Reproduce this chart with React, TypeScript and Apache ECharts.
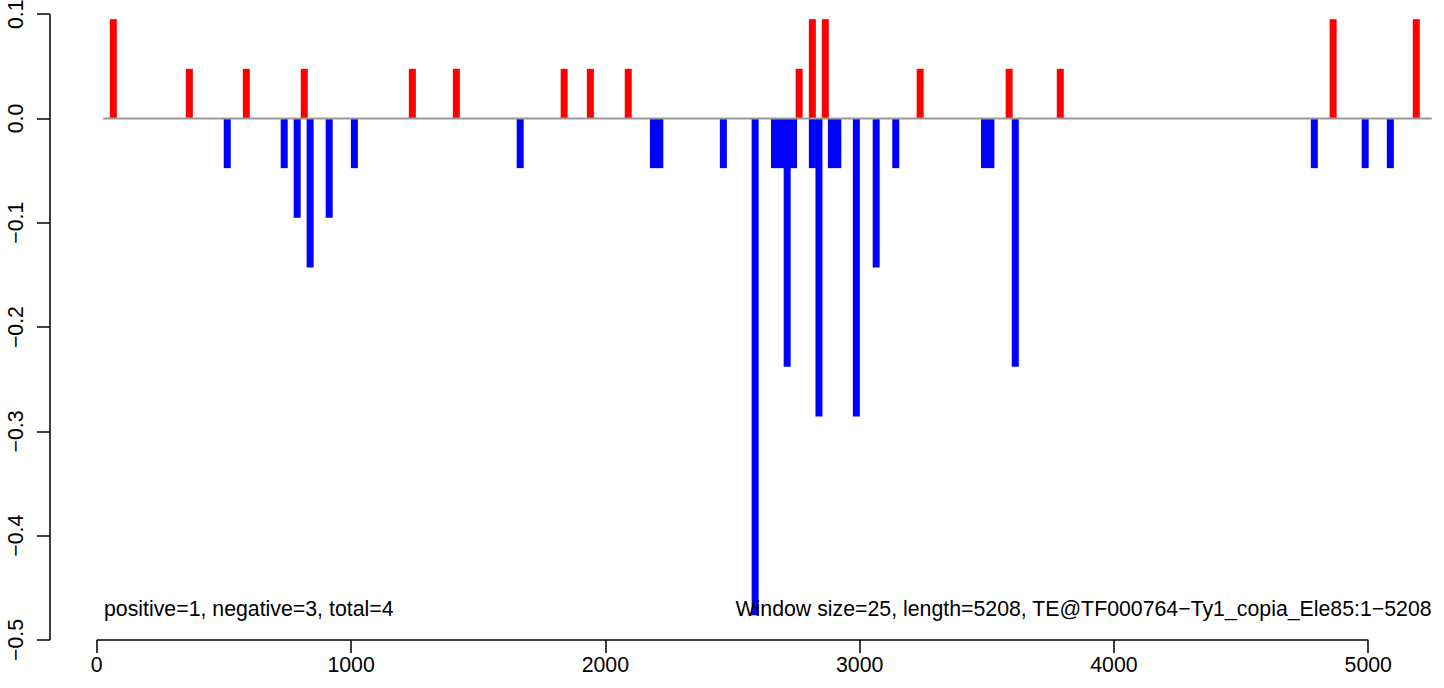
import React, { useEffect, useRef } from "react";
import * as echarts from "echarts";

// ---- data ----
const xTicks = [0, 1000, 2000, 3000, 4000, 5000];
const yTicks = [-0.5, -0.4, -0.3, -0.2, -0.1, 0.0, 0.1];

// positive windows (red)
const posX = [65, 364, 588, 816, 1241, 1414, 1838, 1941, 2090, 2762, 2814, 2865, 3238, 3588, 3789, 4862, 5189];
const posY = [0.0952, 0.0476, 0.0476, 0.0476, 0.0476, 0.0476, 0.0476, 0.0476, 0.0476, 0.0476, 0.0952, 0.0952, 0.0476, 0.0476, 0.0476, 0.0952, 0.0952];

// negative windows (blue)
const negX = [513, 737, 788, 839, 914, 1013, 1665, 2189, 2214, 2464, 2589, 2665, 2690, 2715, 2740, 2814, 2840, 2889, 2914, 2987, 3065, 3142, 3491, 3516, 3612, 4788, 4988, 5087];
const negY = [-0.0476, -0.0476, -0.0952, -0.1429, -0.0952, -0.0476, -0.0476, -0.0476, -0.0476, -0.0476, -0.4762, -0.0476, -0.0476, -0.2381, -0.0476, -0.0476, -0.2857, -0.0476, -0.0476, -0.2857, -0.1429, -0.0476, -0.0476, -0.0476, -0.2381, -0.0476, -0.0476, -0.0476];

const zeroLineX = [25, 5250];
const xAxisSpan = [0, 5000];
const yAxisSpan = [-0.5, 0.1];

const leftText = "positive=1, negative=3, total=4";
const rightText = "Window size=25, length=5208, TE@TF000764\u2212Ty1_copia_Ele85:1\u22125208";

const FONT = '"Liberation Sans", Arial, Helvetica, sans-serif';
const FS = 21.3;
const X_MIN = -184;
const X_MAX = 5298;
const Y_MIN = -0.5;
const Y_MAX = 0.1136;

export default function App() {
  const ref = useRef<HTMLDivElement>(null);
  useEffect(() => {
    if (!ref.current) return;
    const chart = echarts.init(ref.current, null, { renderer: "svg" });
    const option: any = {
      animation: false,
      backgroundColor: "#ffffff",
      grid: {
        left: 50,
        right: 0,
        top: 0,
        bottom: 48,
        containLabel: false,
        outerBoundsMode: "none",
      },
      xAxis: {
        type: "value",
        min: X_MIN,
        max: X_MAX,
        axisLine: { show: false, onZero: false },
        splitLine: { show: false },
        axisTick: {
          show: true,
          customValues: xTicks,
          length: 13,
          lineStyle: { color: "#000", width: 1.5 },
        },
        axisLabel: {
          show: true,
          customValues: xTicks,
          margin: 14,
          fontSize: FS,
          color: "#000",
          fontFamily: FONT,
          formatter: (v: number) => String(v),
        },
      },
      yAxis: {
        type: "value",
        min: Y_MIN,
        max: Y_MAX,
        axisLine: { show: false, onZero: false },
        splitLine: { show: false },
        axisTick: {
          show: true,
          customValues: yTicks,
          length: 13,
          lineStyle: { color: "#000", width: 1.5 },
        },
        axisLabel: {
          show: true,
          customValues: yTicks,
          rotate: 90,
          margin: 24,
          fontSize: FS,
          color: "#000",
          fontFamily: FONT,
          formatter: (v: number) => (v < -1e-9 ? "\u2212" : "") + Math.abs(v).toFixed(1),
        },
      },
      series: [
        {
          type: "bar",
          name: "positive",
          data: posX.map((x, i) => [x, posY[i]]),
          barWidth: 7,
          barGap: "-100%",
          itemStyle: { color: "#FF0000" },
          silent: true,
          z: 2,
        },
        {
          type: "bar",
          name: "negative",
          data: negX.map((x, i) => [x, negY[i]]),
          barWidth: 7,
          barGap: "-100%",
          itemStyle: { color: "#0000FF" },
          silent: true,
          z: 2,
        },
        {
          type: "line",
          data: zeroLineX.map((x) => [x, 0]),
          symbol: "none",
          lineStyle: { color: "#999999", width: 2 },
          silent: true,
          z: 3,
        },
        {
          type: "line",
          data: xAxisSpan.map((x) => [x, Y_MIN]),
          symbol: "none",
          clip: false,
          lineStyle: { color: "#000", width: 1.5 },
          silent: true,
          z: 4,
        },
        {
          type: "line",
          data: yAxisSpan.map((y) => [X_MIN, y]),
          symbol: "none",
          clip: false,
          lineStyle: { color: "#000", width: 1.5 },
          silent: true,
          z: 4,
        },
      ],
      graphic: [
        {
          type: "text",
          left: 104,
          top: 598,
          z: 10,
          style: {
            text: leftText,
            font: `${FS}px ${FONT}`,
            fill: "#000",
          },
        },
        {
          type: "text",
          right: 12,
          top: 598,
          z: 10,
          style: {
            text: rightText,
            font: `${FS}px ${FONT}`,
            fill: "#000",
          },
        },
      ],
    };
    chart.setOption(option);
    return () => chart.dispose();
  }, []);
  return (
    <div
      ref={ref}
      style={{ position: "fixed", left: 0, top: 0, width: 1444, height: 688, background: "#fff" }}
    />
  );
}
